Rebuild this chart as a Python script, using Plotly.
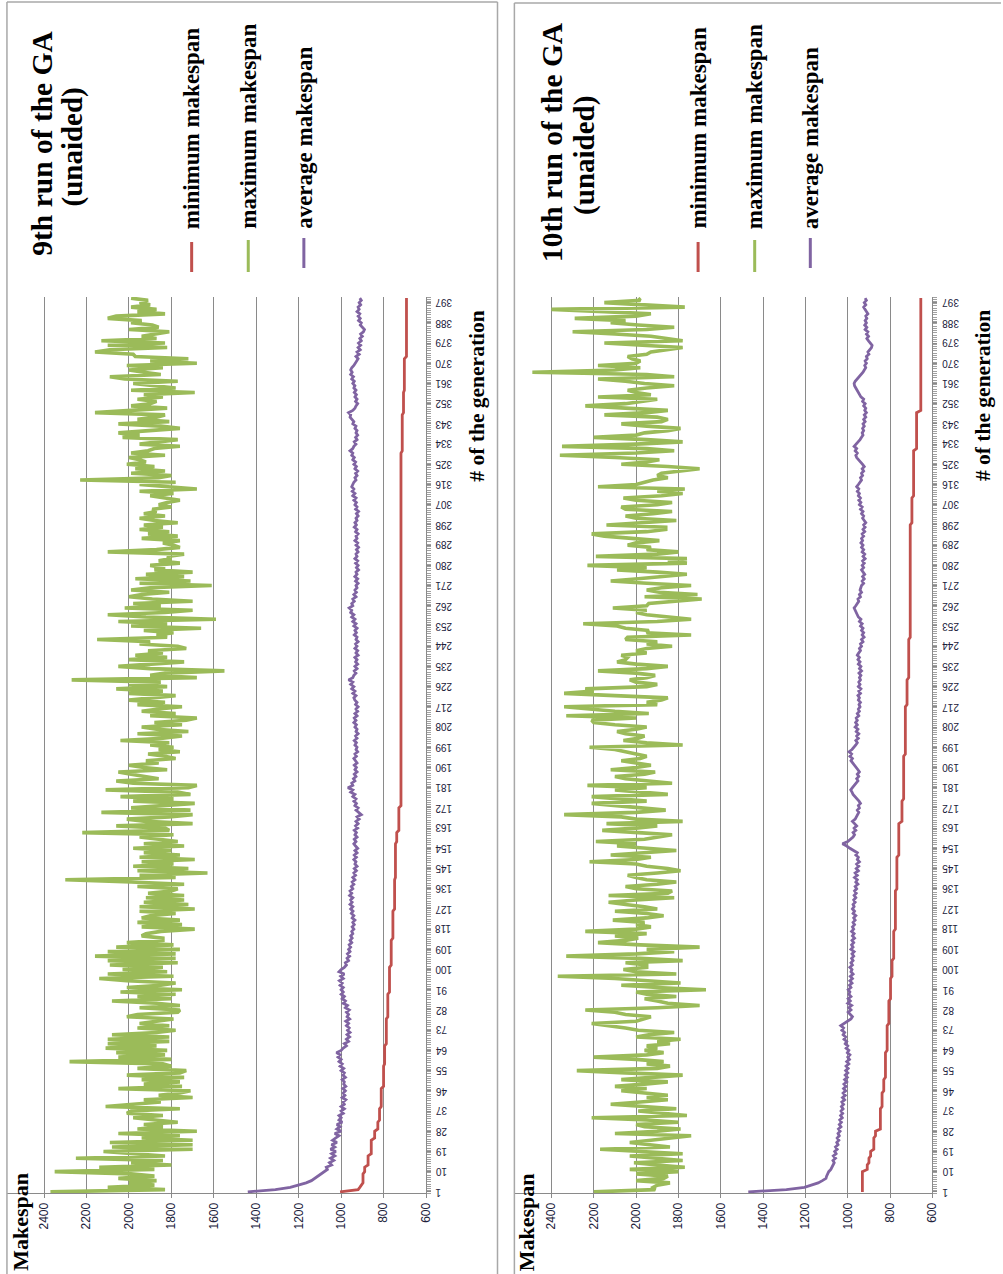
import plotly.graph_objects as go

# ---------------------------------------------------------------------------
# Data: makespan per generation for two unaided GA runs (9th and 10th)
# ---------------------------------------------------------------------------
GENERATIONS = list(range(1, 400))

GEN_TICKS = [1, 10, 19, 28, 37, 46, 55, 64, 73, 82, 91, 100, 109, 118, 127,
             136, 145, 154, 163, 172, 181, 190, 199, 208, 217, 226, 235, 244,
             253, 262, 271, 280, 289, 298, 307, 316, 325, 334, 343, 352, 361,
             370, 379, 388, 397]
MAKESPAN_TICKS = [600, 800, 1000, 1200, 1400, 1600, 1800, 2000, 2200, 2400]

RUN9_MIN = [
    1005, 920, 912, 905, 897, 897, 897, 897, 897, 889, 889, 889, 873, 873, 873, 873, 873, 858, 858, 858,
    858, 858, 858, 858, 842, 842, 842, 842, 827, 827, 827, 827, 819, 819, 819, 819, 819, 819, 811, 811,
    811, 811, 811, 811, 811, 811, 811, 800, 800, 800, 800, 800, 800, 800, 800, 800, 800, 795, 795, 795,
    795, 795, 795, 795, 795, 795, 787, 787, 787, 787, 787, 787, 787, 787, 787, 787, 787, 787, 780, 780,
    780, 780, 780, 780, 780, 780, 780, 780, 780, 772, 772, 772, 772, 772, 772, 772, 772, 772, 772, 772,
    772, 764, 764, 764, 764, 764, 764, 764, 764, 764, 764, 764, 764, 756, 756, 756, 756, 756, 756, 756,
    756, 756, 756, 756, 756, 756, 748, 748, 748, 748, 748, 748, 748, 748, 748, 748, 748, 748, 748, 748,
    744, 744, 744, 744, 744, 744, 744, 744, 744, 744, 744, 744, 744, 744, 744, 744, 738, 738, 738, 738,
    738, 728, 728, 728, 728, 728, 728, 728, 728, 728, 728, 728, 718, 718, 718, 718, 718, 718, 718, 718,
    718, 718, 718, 718, 718, 718, 718, 718, 718, 718, 718, 718, 718, 718, 718, 718, 718, 718, 718, 718,
    718, 718, 718, 718, 718, 718, 718, 718, 718, 718, 718, 718, 718, 718, 718, 718, 718, 718, 718, 718,
    718, 718, 718, 718, 718, 718, 718, 718, 718, 718, 718, 718, 718, 718, 718, 718, 718, 718, 718, 718,
    718, 718, 718, 718, 718, 718, 718, 718, 718, 718, 718, 718, 718, 718, 718, 718, 718, 718, 718, 718,
    718, 718, 718, 718, 718, 718, 718, 718, 718, 718, 718, 718, 718, 718, 718, 718, 718, 718, 718, 718,
    718, 718, 718, 718, 718, 718, 718, 718, 718, 718, 718, 718, 718, 718, 718, 718, 718, 718, 718, 718,
    718, 718, 718, 718, 718, 718, 718, 718, 718, 718, 718, 718, 718, 718, 718, 718, 718, 718, 718, 718,
    718, 718, 718, 718, 718, 718, 718, 718, 718, 718, 712, 712, 712, 712, 712, 712, 712, 712, 712, 712,
    712, 712, 712, 712, 712, 712, 712, 706, 706, 706, 706, 706, 706, 706, 706, 706, 706, 702, 702, 702,
    702, 702, 702, 702, 702, 702, 702, 702, 702, 702, 702, 702, 692, 692, 692, 692, 692, 692, 692, 692,
    692, 692, 692, 692, 692, 692, 692, 692, 692, 692, 692, 692, 692, 692, 692, 692, 692, 692, 692,
]

RUN9_MAX = [
    2370, 1830, 2100, 1880, 2000, 1870, 2050, 1880, 1990,
    2350, 1880, 2140, 1800, 1990, 1840, 2250, 1830, 1960,
    2120, 1700, 2080, 1700, 2090, 1700, 1940, 1760, 2050,
    1680, 1960, 1840, 1930, 1770, 1880, 1980, 1840, 2010,
    1990, 1760, 2110, 1950, 1850, 1930, 1700, 1860, 1760,
    1710, 2050, 1750, 1930, 1760, 1940, 1740, 2010, 1760,
    1730, 1960, 1800, 1840, 2280, 1800, 2050, 1830, 2060,
    1820, 2110, 1870, 2100, 1810, 2100, 1810, 2080, 1870,
    1780, 1960, 1810, 1950, 1860, 1790, 2010, 1960, 1770,
    1760, 1950, 1760, 1870, 2080, 1800, 1960, 1780, 2040,
    1750, 2010, 1850, 1780, 2010, 2140, 1790, 2100, 1820,
    2030, 1840, 2090, 1770, 2100, 1780, 2160, 1780, 2100,
    1760, 2060, 1790, 2010, 1840, 1840, 1940, 1920, 1850,
    1690, 1940, 1750, 1960, 1760, 1940, 1900, 1780, 1950,
    1690, 1950, 1720, 1930, 1740, 1920, 1740, 1910, 1800,
    1770, 1960, 1740, 1990, 2300, 1780, 1950, 1630, 1960,
    1720, 1980, 1790, 1940, 1690, 1950, 1760, 1930, 1800,
    1980, 1740, 1930, 1770, 1850, 1950, 1790, 2220, 1810,
    1830, 2060, 1700, 1920, 2010, 1810, 1700, 2130, 1710,
    1990, 1860, 1690, 1980, 1790, 2040, 1710, 1770, 2110,
    1720, 1680, 1980, 2060, 1860, 1940, 1990, 2050, 1820,
    1930, 2000, 1860, 1920, 1780, 1830, 1910, 1760, 1860,
    1790, 1900, 1810, 2040, 1840, 1750, 1960, 1720, 1870,
    1940, 1750, 1880, 1730, 1680, 1900, 1780, 1940, 1860,
    1750, 1960, 1830, 2000, 1890, 1780, 2000, 1840, 2060,
    1820, 2000, 1850, 2270, 1680, 1900, 1830, 1550, 1900,
    2050, 1900, 1740, 2000, 1820, 1970, 1840, 1910, 1730,
    1770, 1950, 1900, 2150, 1820, 1870, 1790, 1930, 1660,
    1990, 1820, 2050, 1590, 1920, 2100, 1830, 1700, 2020,
    1850, 1980, 1700, 1890, 2000, 1940, 1810, 1990, 1900,
    1610, 1950, 1710, 1970, 1740, 1920, 1700, 1880, 1830,
    1900, 1760, 1860, 1800, 1820, 1740, 2100, 1870, 1760,
    1790, 1840, 1760, 1940, 1770, 1910, 1810, 1950, 1840,
    1930, 1770, 1880, 1950, 1830, 1930, 1870, 1890, 1800,
    1860, 1820, 1760, 1830, 1900, 1790, 1950, 1680, 1820,
    1950, 1780, 2230, 1860, 1800, 1990, 1830, 1970, 1880,
    2010, 1920, 1950, 2000, 1830, 1990, 1910, 1880, 1760,
    1950, 1860, 1770, 2030, 1950, 2050, 1900, 1760, 1850,
    2050, 1810, 1960, 1870, 1830, 2160, 1960, 1820, 1990,
    1900, 1870, 1960, 1840, 1930, 1690, 1990, 1780, 1900,
    1980, 1770, 2020, 2090, 1850, 1930, 2000, 1840, 2010,
    1680, 1900, 1720, 1970, 1980, 2160, 2090, 1820, 2100,
    1830, 2130, 1870, 1940, 1880, 1810, 2000, 1860, 1890,
    1990, 1940, 2100, 2060, 1830, 1960, 1870, 1990, 1900,
    1950, 1910, 1990,
]

RUN9_AVG = [
    1440, 1310, 1240, 1200, 1165, 1140, 1125, 1105, 1095, 1075,
    1065, 1070, 1045, 1055, 1035, 1050, 1030, 1045, 1025, 1050,
    1030, 1045, 1020, 1040, 1025, 1010, 1030, 1000, 1020, 1005,
    1020, 995, 1010, 1000, 1010, 990, 1000, 985, 1000, 985,
    990, 978, 995, 982, 990, 980, 992, 978, 988, 985,
    995, 980, 992, 985, 1000, 988, 1005, 995, 1010, 1000,
    1015, 1005, 1022, 1000, 990, 975, 985, 965, 975, 960,
    972, 958, 970, 962, 975, 965, 978, 960, 972, 965,
    975, 962, 980, 970, 990, 980, 995, 985, 1000, 990,
    1000, 990, 1005, 995, 1008, 990, 1002, 985, 1010, 1000,
    985, 975, 980, 965, 972, 960, 970, 958, 965, 955,
    962, 950, 958, 948, 955, 945, 950, 940, 948, 938,
    945, 935, 948, 940, 952, 944, 955, 945, 958, 948,
    955, 945, 960, 950, 958, 945, 952, 940, 948, 935,
    945, 932, 940, 928, 938, 925, 935, 930, 940, 928,
    938, 925, 935, 922, 932, 940, 930, 938, 925, 935,
    928, 938, 922, 932, 920, 930, 915, 925, 905, 920,
    930, 920, 935, 928, 940, 930, 945, 935, 955, 945,
    968, 945, 950, 935, 942, 930, 938, 925, 935, 928,
    938, 925, 932, 940, 928, 935, 922, 930, 925, 935,
    928, 938, 925, 932, 920, 930, 925, 935, 928, 940,
    930, 938, 925, 935, 922, 930, 920, 932, 925, 935,
    940, 930, 945, 935, 950, 940, 955, 945, 965, 945,
    940, 930, 938, 925, 935, 922, 932, 925, 935, 920,
    930, 922, 935, 925, 932, 920, 930, 925, 938, 928,
    935, 925, 940, 930, 945, 935, 950, 940, 955, 950,
    962, 945, 950, 938, 945, 930, 940, 928, 935, 925,
    930, 920, 932, 922, 935, 925, 930, 918, 928, 920,
    932, 922, 935, 925, 930, 920, 928, 918, 930, 922,
    935, 925, 930, 920, 932, 925, 938, 928, 935, 925,
    930, 920, 928, 918, 932, 925, 935, 928, 940, 930,
    945, 935, 948, 940, 950, 945, 940, 930, 935, 925,
    932, 922, 935, 928, 940, 932, 945, 938, 950, 945,
    958, 945, 940, 930, 938, 925, 932, 922, 930, 925,
    935, 930, 945, 940, 950, 958, 955, 965, 945, 935,
    930, 922, 932, 925, 935, 928, 938, 930, 940, 935,
    945, 938, 950, 942, 955, 948, 955, 950, 940, 932,
    928, 920, 930, 915, 925, 910, 920, 908, 918, 905,
    912, 900, 908, 895, 890, 900, 910, 905, 918, 910,
    920, 912, 925, 915, 920, 908, 915, 905, 912,
]

RUN10_MIN = [
    931, 931, 931, 931, 931, 931, 931, 931, 931, 931, 908, 908, 908, 900, 900, 900, 892, 892, 892, 877,
    877, 877, 877, 877, 877, 869, 869, 869, 846, 846, 846, 846, 846, 846, 846, 846, 846, 846, 838, 838,
    838, 838, 838, 838, 838, 830, 830, 830, 830, 830, 830, 822, 822, 822, 822, 822, 822, 822, 822, 822,
    822, 822, 822, 814, 814, 814, 814, 814, 814, 814, 814, 814, 814, 814, 814, 806, 806, 806, 806, 806,
    806, 806, 806, 806, 806, 806, 798, 798, 798, 798, 798, 798, 798, 798, 798, 798, 791, 791, 791, 791,
    791, 791, 791, 791, 783, 783, 783, 783, 783, 783, 783, 783, 783, 783, 783, 783, 783, 775, 775, 775,
    775, 775, 775, 775, 775, 775, 775, 775, 775, 775, 775, 775, 775, 775, 775, 768, 768, 768, 768, 768,
    768, 768, 768, 768, 768, 768, 768, 768, 768, 768, 759, 759, 759, 759, 759, 759, 759, 759, 759, 759,
    759, 759, 759, 759, 759, 744, 744, 744, 744, 744, 744, 744, 744, 744, 744, 736, 736, 736, 736, 736,
    736, 736, 736, 736, 736, 736, 736, 736, 736, 736, 736, 736, 736, 736, 736, 728, 728, 728, 728, 728,
    728, 728, 728, 728, 728, 728, 728, 728, 728, 728, 728, 728, 728, 728, 728, 728, 728, 720, 720, 720,
    720, 720, 720, 720, 720, 720, 720, 720, 720, 712, 712, 712, 712, 712, 712, 712, 712, 712, 712, 712,
    712, 712, 712, 712, 712, 712, 712, 705, 705, 705, 705, 705, 705, 705, 705, 705, 705, 705, 705, 705,
    705, 705, 705, 705, 705, 705, 705, 705, 705, 705, 705, 705, 705, 705, 705, 705, 705, 705, 705, 705,
    705, 705, 705, 705, 705, 705, 705, 705, 705, 705, 705, 705, 705, 705, 705, 705, 705, 705, 697, 697,
    697, 697, 697, 697, 697, 697, 697, 697, 697, 697, 689, 689, 689, 689, 689, 689, 689, 689, 689, 689,
    689, 689, 689, 689, 689, 689, 689, 689, 689, 689, 689, 675, 675, 675, 675, 675, 675, 675, 675, 675,
    675, 675, 675, 675, 675, 675, 675, 675, 655, 655, 655, 655, 655, 655, 655, 655, 655, 655, 655, 655,
    655, 655, 655, 655, 655, 655, 655, 655, 655, 655, 655, 655, 655, 655, 655, 655, 655, 655, 655, 655,
    655, 655, 655, 655, 655, 655, 655, 655, 655, 655, 655, 655, 655, 655, 655, 655, 655, 655, 655,
]

RUN10_MAX = [
    2200, 1910, 1920, 1900, 1840, 2000, 1870, 1850, 2000,
    1800, 2030, 1770, 1900, 2010, 1780, 1900, 2030, 1780,
    1950, 2170, 1840, 1950, 2030, 1930, 1850, 1740, 2100,
    1900, 1790, 1960, 2000, 1800, 1950, 2210, 1760, 1900,
    1990, 1810, 1950, 2120, 1980, 1850, 1950, 1850, 1960,
    2070, 1950, 2100, 1960, 1850, 2070, 1900, 1780, 2050,
    2280, 1900, 1840, 1950, 1870, 2000, 2200, 1950, 1870,
    1960, 1900, 1950, 1840, 1900, 1790, 2000, 1940, 1820,
    1990, 2050, 2120, 2210, 2000, 1960, 1930, 2050, 2100,
    2240, 1900, 1700, 1850, 1900, 1960, 1810, 1950, 2000,
    1670, 1900, 2070, 1790, 1950, 2100, 2370, 1810, 2000,
    2060, 1950, 1950, 2050, 1780, 1980, 2330, 2000, 1820,
    1950, 1700, 1980, 2180, 2050, 1990, 2100, 1950, 2240,
    2000, 1930, 2000, 1960, 2110, 1950, 1870, 1950, 2100,
    1900, 1960, 2050, 2130, 2000, 1820, 2130, 1850, 1830,
    2000, 2050, 1900, 1810, 1950, 2000, 2040, 1900, 1790,
    1850, 1950, 2000, 2220, 2000, 1930, 2120, 1950, 1810,
    1950, 2090, 2000, 2190, 1960, 1900, 1830, 1990, 2160,
    2000, 1900, 2140, 1780, 2000, 2070, 2340, 2000, 1860,
    1990, 2100, 2210, 1950, 2100, 2210, 1850, 2000, 2100,
    1950, 2230, 1830, 1930, 2050, 2100, 1960, 1910, 2120,
    2000, 1930, 2000, 2070, 1980, 1950, 2000, 2050, 2100,
    2220, 1780, 1950, 2060, 1990, 1960, 2050, 2090, 2000,
    1950, 2100, 2200, 2210, 2000, 2330, 1940, 2100, 2200,
    2340, 1900, 1950, 1880, 1850, 2100, 2340, 2200, 2240,
    1950, 1900, 2000, 2030, 1950, 1910, 2000, 2180, 1950,
    1850, 2000, 2090, 2050, 2040, 2070, 1950, 2000, 1950,
    1830, 1950, 1900, 2050, 2040, 1740, 1950, 1940, 2050,
    2090, 2250, 1900, 1740, 1850, 1950, 2000, 1950, 2110,
    1950, 1940, 1800, 1690, 1960, 1710, 1890, 1950, 1880,
    1740, 1950, 2120, 1990, 1880, 1760, 1900, 2090, 1950,
    2230, 1760, 1850, 1760, 2190, 1900, 1800, 1950, 1930,
    2040, 2000, 1890, 2050, 2150, 2210, 1950, 1860, 1860,
    2140, 1960, 1810, 2000, 2050, 1920, 1830, 2050, 2070,
    1900, 1830, 2000, 2060, 1880, 1780, 1900, 1770, 2180,
    2000, 1960, 1920, 1850, 1900, 1880, 1800, 1700, 1850,
    2070, 1950, 1890, 2100, 2360, 2000, 1820, 1950, 2350,
    2000, 1780, 1950, 2200, 2000, 1960, 1850, 1790, 1950,
    2070, 1880, 1850, 1900, 2150, 1950, 1850, 2050, 2240,
    2050, 1970, 1900, 2180, 1930, 2000, 2040, 1950, 1820,
    1960, 2050, 2180, 1820, 1950, 2490, 2100, 1980, 2180,
    2000, 1980, 2020, 2040, 1950, 1930, 1850, 1780, 1970,
    2150, 1780, 1850, 1930, 2100, 2300, 1950, 1820, 1990,
    2120, 2050, 2290, 2000, 1930, 2150, 2400, 1770, 2000,
    2150, 1980, 1990,
]

RUN10_AVG = [
    1470, 1290, 1205, 1173, 1140, 1120, 1103, 1100, 1095, 1090,
    1080, 1075, 1070, 1064, 1070, 1058, 1068, 1055, 1062, 1050,
    1058, 1046, 1052, 1042, 1050, 1040, 1046, 1036, 1044, 1032,
    1040, 1030, 1038, 1026, 1034, 1024, 1032, 1022, 1030, 1020,
    1028, 1015, 1025, 1012, 1022, 1010, 1020, 1008, 1018, 1005,
    1015, 1002, 1012, 1000, 1010, 998, 1008, 995, 1005, 992,
    1000, 990, 1002, 995, 1008, 1000, 1012, 1005, 1018, 1010,
    1022, 1015, 1028, 1020, 1033, 1015, 1000, 985, 978, 990,
    998, 985, 995, 982, 1000, 988, 998, 985, 995, 990,
    998, 985, 992, 980, 990, 978, 988, 975, 985, 980,
    990, 978, 985, 975, 982, 972, 980, 970, 985, 975,
    982, 972, 980, 968, 978, 970, 982, 972, 978, 968,
    975, 965, 972, 962, 975, 968, 978, 970, 975, 965,
    972, 962, 970, 960, 968, 958, 965, 952, 962, 955,
    968, 955, 965, 950, 960, 948, 958, 945, 955, 950,
    962, 955, 975, 990, 1005, 1025, 1000, 985, 975, 968,
    975, 962, 970, 958, 968, 978, 965, 960, 952, 948,
    955, 945, 950, 940, 947, 958, 965, 975, 980, 986,
    978, 968, 960, 952, 958, 948, 955, 945, 952, 960,
    968, 975, 985, 978, 990, 982, 994, 980, 970, 962,
    955, 962, 950, 958, 948, 960, 952, 965, 955, 963,
    955, 960, 948, 955, 945, 950, 942, 947, 940, 950,
    945, 952, 940, 948, 938, 950, 942, 948, 940, 945,
    938, 947, 935, 945, 938, 950, 942, 952, 945, 955,
    948, 940, 945, 935, 940, 928, 935, 923, 932, 925,
    935, 928, 940, 932, 945, 938, 950, 955, 962, 968,
    970, 962, 955, 948, 952, 940, 945, 935, 942, 938,
    935, 925, 932, 922, 930, 920, 928, 935, 925, 932,
    922, 930, 918, 928, 920, 932, 925, 935, 928, 938,
    930, 935, 925, 932, 920, 928, 918, 925, 915, 922,
    930, 925, 935, 928, 940, 932, 945, 938, 948, 940,
    950, 945, 955, 948, 958, 950, 942, 935, 940, 930,
    935, 925, 932, 922, 930, 940, 950, 958, 962, 955,
    965, 958, 970, 960, 950, 942, 935, 928, 932, 925,
    930, 922, 928, 918, 925, 915, 922, 912, 920, 915,
    925, 918, 930, 925, 938, 945, 952, 958, 962, 968,
    970, 965, 955, 945, 935, 928, 922, 915, 920, 912,
    918, 908, 912, 900, 905, 895, 888, 885, 895, 902,
    910, 902, 912, 905, 918, 910, 920, 912, 918, 910,
    915, 905, 912, 920, 925, 915, 922, 912, 918,
]

for series in (RUN9_MIN, RUN9_MAX, RUN9_AVG, RUN10_MIN, RUN10_MAX, RUN10_AVG):
    assert len(series) == len(GENERATIONS), len(series)

# ---------------------------------------------------------------------------
# Styling
# ---------------------------------------------------------------------------
W, H = 1003, 1274
RED = "#C0504D"
GREEN = "#9BBB59"
PURPLE = "#8064A2"
GRID = "#8a8a8a"
BORDER = "#a8a8a8"
LABEL = "#20203a"
SERIF = "Liberation Serif"
SANS = "Liberation Sans"


def fx(px):
    """Horizontal pixel -> paper fraction."""
    return px / W


def fy(py):
    """Vertical pixel (from top) -> paper fraction."""
    return 1 - py / H


PLOT_TOP, PLOT_BOTTOM = 297, 1193
AXIS_MIN, AXIS_MAX = 600, 2575


def value_axis(left, right, anchor):
    return dict(
        domain=[fx(left), fx(right)], range=[AXIS_MAX, AXIS_MIN], anchor=anchor,
        tickmode="array", tickvals=MAKESPAN_TICKS,
        ticktext=[str(v) for v in MAKESPAN_TICKS], tickangle=-90,
        tickfont=dict(family=SANS, size=12, color=LABEL),
        showgrid=True, gridcolor=GRID, gridwidth=1, zeroline=False,
        showline=True, linecolor=GRID, linewidth=1,
        ticks="outside", ticklen=4, tickcolor=GRID, fixedrange=True,
    )


def generation_axis(anchor):
    # labels are drawn separately (upside down, flush against the axis)
    return dict(
        domain=[fy(PLOT_BOTTOM), fy(PLOT_TOP)], range=[0.5, 399.5], anchor=anchor,
        side="right", tickmode="array", tickvals=GEN_TICKS, showticklabels=False,
        showgrid=False, zeroline=False, showline=True, linecolor=GRID, linewidth=1,
        ticks="outside", ticklen=4, tickcolor=GRID,
        minor=dict(ticks="outside", ticklen=4, tickcolor="#a0a0a0", dtick=1,
                   tick0=0.5, showgrid=False),
        fixedrange=True,
    )


fig = go.Figure()

panels = [
    ("x", "y", RUN9_MIN, RUN9_MAX, RUN9_AVG),
    ("x2", "y2", RUN10_MIN, RUN10_MAX, RUN10_AVG),
]
for xa, ya, mins, maxs, avgs in panels:
    fig.add_trace(go.Scatter(x=maxs, y=GENERATIONS, mode="lines", name="maximum makespan",
                             line=dict(color=GREEN, width=3.6), xaxis=xa, yaxis=ya,
                             showlegend=False))
    fig.add_trace(go.Scatter(x=avgs, y=GENERATIONS, mode="lines", name="average makespan",
                             line=dict(color=PURPLE, width=2.8), xaxis=xa, yaxis=ya,
                             showlegend=False))
    fig.add_trace(go.Scatter(x=mins, y=GENERATIONS, mode="lines", name="minimum makespan",
                             line=dict(color=RED, width=2.8), xaxis=xa, yaxis=ya,
                             showlegend=False))


def vtext(text, x, y, size, yanchor="middle"):
    return dict(text=text, x=fx(x), y=fy(y), xref="paper", yref="paper",
                showarrow=False, textangle=-90, xanchor="center", yanchor=yanchor,
                font=dict(family=SERIF, size=size, color="black"))


def vline(x, y0, y1, color, width):
    return dict(type="line", xref="paper", yref="paper", x0=fx(x), x1=fx(x),
                y0=fy(y0), y1=fy(y1), line=dict(color=color, width=width))


def hline(y, x0, x1, color, width):
    return dict(type="line", xref="paper", yref="paper", x0=fx(x0), x1=fx(x1),
                y0=fy(y), y1=fy(y), line=dict(color=color, width=width))


annotations = []
shapes = []

# upside-down generation labels next to each category axis
for xa, ya in (("x", "y"), ("x2", "y2")):
    for g in GEN_TICKS:
        annotations.append(dict(
            text=str(g), x=AXIS_MIN, y=g, xref=xa, yref=ya, showarrow=False,
            textangle=180, xanchor="left", yanchor="middle", xshift=7,
            font=dict(family=SANS, size=10, color=LABEL)))

panel_layout = [
    # (offset, title, title x, subtitle x, title y, subtitle y)
    (0, "9th run of the GA", 42, 73, 143, 147),
    (510, "10th run of the GA", 556, 589, 142, 155),
]
legend_items = [("minimum makespan", RED, 193, 242, 272),
                ("maximum makespan", GREEN, 250, 240, 272),
                ("average makespan", PURPLE, 306, 238, 268)]

for off, title, tx, sx, ty, sy in panel_layout:
    annotations.append(vtext("<b>%s</b>" % title, tx, ty, 29.5))
    annotations.append(vtext("<b>(unaided)</b>", sx, sy, 29))
    for label, color, lx, ly0, ly1 in legend_items:
        annotations.append(vtext("<b>%s</b>" % label, lx + off, 231, 23, yanchor="bottom"))
        shapes.append(vline(lx + off, ly0, ly1, color, 3))
    annotations.append(vtext("<b># of the generation</b>", 480 + off, 396, 21.5))
    annotations.append(vtext("<b>Makespan</b>", 20 + off, 1222, 22))

# chart-area borders of the two panels
shapes += [
    hline(2, 7, 501, BORDER, 1.5), vline(7, 2, H + 5, BORDER, 1.5), vline(501, 2, H + 5, BORDER, 1.5),
    hline(3, 518, W + 5, BORDER, 1.5), vline(518, 3, H + 5, BORDER, 1.5),
]

fig.update_layout(
    width=W, height=H,
    margin=dict(l=0, r=0, t=0, b=0),
    paper_bgcolor="white", plot_bgcolor="white",
    showlegend=False,
    xaxis=value_axis(7, 429, "y"),
    yaxis=generation_axis("x"),
    xaxis2=value_axis(518, 939, "y2"),
    yaxis2=generation_axis("x2"),
    annotations=annotations,
    shapes=shapes,
)

fig.write_html("out.html")
